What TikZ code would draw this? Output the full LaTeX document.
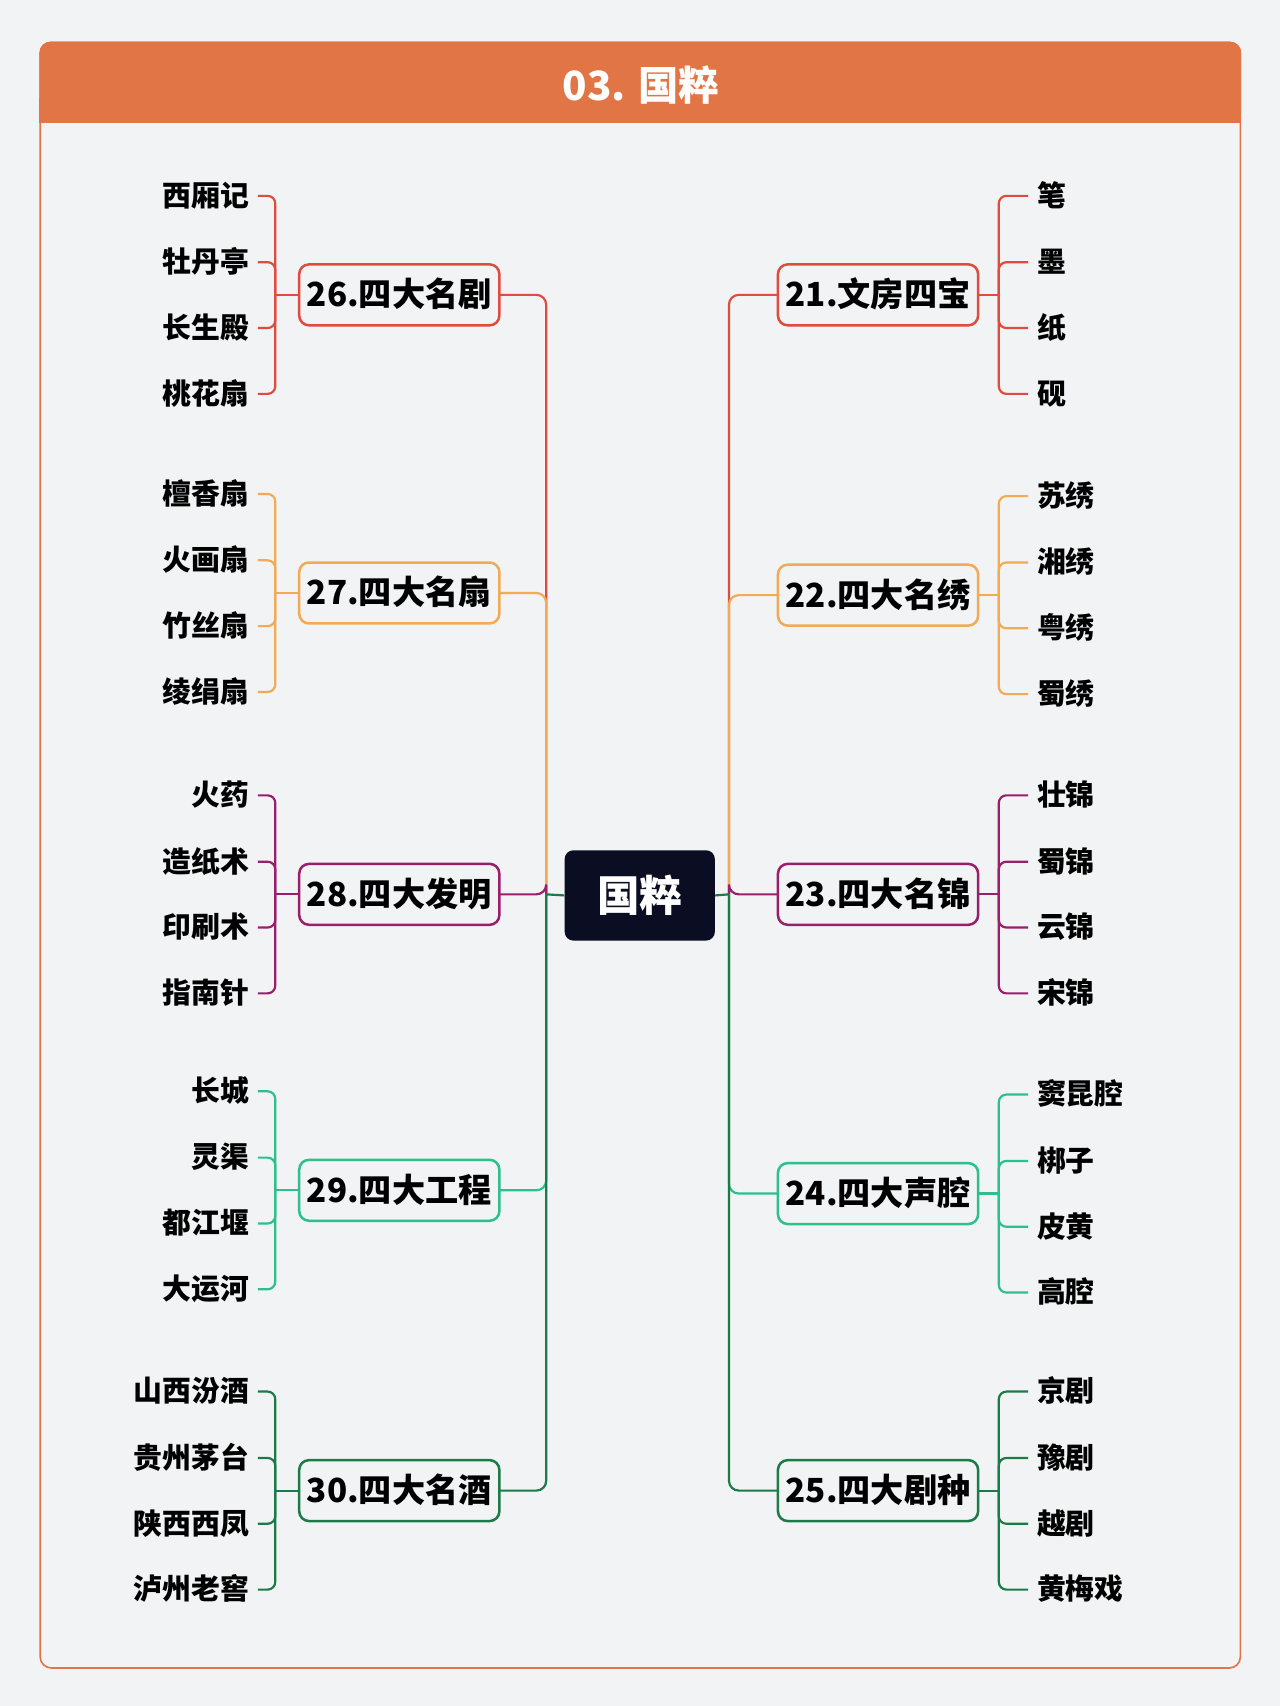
\documentclass[tikz,border=0pt]{standalone}
\usepackage{fontspec}
\newfontfamily\cjk{Noto Sans CJK SC}
\definecolor{bgc}{HTML}{F1F3F4}
\definecolor{hdr}{HTML}{E27545}
\definecolor{cred}{HTML}{DF4B3D}
\definecolor{corg}{HTML}{F2AA55}
\definecolor{cpur}{HTML}{9A1F6A}
\definecolor{cteal}{HTML}{2DBF8C}
\definecolor{cdkg}{HTML}{1C7A48}
\definecolor{cnavy}{HTML}{0B0D22}
\tikzset{
  branchbox/.style={draw=#1, line width=2.3pt, rounded corners=9pt, fill=bgc,
    minimum width=184pt, minimum height=56pt, inner sep=0pt,
    font=\cjk\bfseries\fontsize{30.5}{30.5}\selectfont, text height=25.5pt, text depth=3.5pt},
  leafL/.style={anchor=east, inner sep=0pt, font=\cjk\bfseries\fontsize{26.5}{26.5}\selectfont,
    text height=22pt, text depth=3pt},
  leafR/.style={anchor=west, inner sep=0pt, font=\cjk\bfseries\fontsize{26.5}{26.5}\selectfont,
    text height=22pt, text depth=3pt},
  conn/.style={draw=#1, line width=2pt},
  centerbox/.style={fill=cnavy, rounded corners=8pt, minimum width=138pt, minimum height=83pt,
    inner sep=0pt, text=white, font=\cjk\bfseries\fontsize{39}{39}\selectfont,
    text height=33pt, text depth=4.3pt},
  titletext/.style={text=white, inner sep=0pt, font=\cjk\bfseries\fontsize{37}{37}\selectfont,
    text height=31.5pt, text depth=4pt}
}
\begin{document}
\begin{tikzpicture}[x=1pt,y=-1pt]
\useasboundingbox (0,0) rectangle (1176,1568);
\fill[bgc] (0,0) rectangle (1176,1568);
% frame
\draw[draw=hdr, line width=1.5pt, fill=bgc, rounded corners=10pt] (37,39) rectangle (1140,1533);
\fill[hdr, rounded corners=10pt] (36.25,38.25) rectangle (1140.75,113);
\fill[hdr] (36.25,90) rectangle (1140.75,113);
\node[titletext] (title) at (589,79) {03. 国粹};
% center
\node[centerbox] (c) at (588,823) {国粹};
% left side
\foreach \id/\col/\y/\t/\a/\b/\cc/\d in {
  26/cred/271/四大名剧/西厢记/牡丹亭/长生殿/桃花扇,
  27/corg/545/四大名扇/檀香扇/火画扇/竹丝扇/绫绢扇,
  28/cpur/822/四大发明/火药/造纸术/印刷术/指南针,
  29/cteal/1094/四大工程/长城/灵渠/都江堰/大运河,
  30/cdkg/1370/四大名酒/山西汾酒/贵州茅台/陕西西凤/泸州老窖}{
  \draw[conn=\col, rounded corners=9pt] (367,\y) -| (502,822);
  \node[branchbox=\col] (b\id) at (367,\y) {\id.\t};
  \node[leafL] (l\id-1) at (229,\y-91) {\a};
  \node[leafL] (l\id-2) at (229,\y-30) {\b};
  \node[leafL] (l\id-3) at (229,\y+30.5) {\cc};
  \node[leafL] (l\id-4) at (229,\y+91) {\d};
  \coordinate (j\id) at (253,\y);
  \foreach \k in {1,2,3,4}{
    \draw[conn=\col, rounded corners=7pt] ([xshift=8pt]l\id-\k.east) -| (j\id);
  }
  \draw[conn=\col] (j\id) -- (b\id.west);
}
\coordinate (tl) at (502,822);
\draw[conn=cdkg] (tl) -- (c.west);
% right side
\foreach \id/\col/\y/\t/\a/\b/\cc/\d in {
  21/cred/271/文房四宝/笔/墨/纸/砚,
  22/corg/547/四大名绣/苏绣/湘绣/粤绣/蜀绣,
  23/cpur/822/四大名锦/壮锦/蜀锦/云锦/宋锦,
  24/cteal/1097/四大声腔/窦昆腔/梆子/皮黄/高腔,
  25/cdkg/1370/四大剧种/京剧/豫剧/越剧/黄梅戏}{
  \draw[conn=\col, rounded corners=9pt] (807,\y) -| (670,822);
  \node[branchbox=\col] (b\id) at (807,\y) {\id.\t};
  \node[leafR] (l\id-1) at (953,\y-91) {\a};
  \node[leafR] (l\id-2) at (953,\y-30) {\b};
  \node[leafR] (l\id-3) at (953,\y+30.5) {\cc};
  \node[leafR] (l\id-4) at (953,\y+91) {\d};
  \coordinate (j\id) at (918,\y);
  \foreach \k in {1,2,3,4}{
    \draw[conn=\col, rounded corners=7pt] ([xshift=-8pt]l\id-\k.west) -| (j\id);
  }
  \draw[conn=\col] (j\id) -- (b\id.east);
}
\coordinate (tr) at (670,822);
\draw[conn=cdkg] (c.east) -- (tr);
\end{tikzpicture}
\end{document}
